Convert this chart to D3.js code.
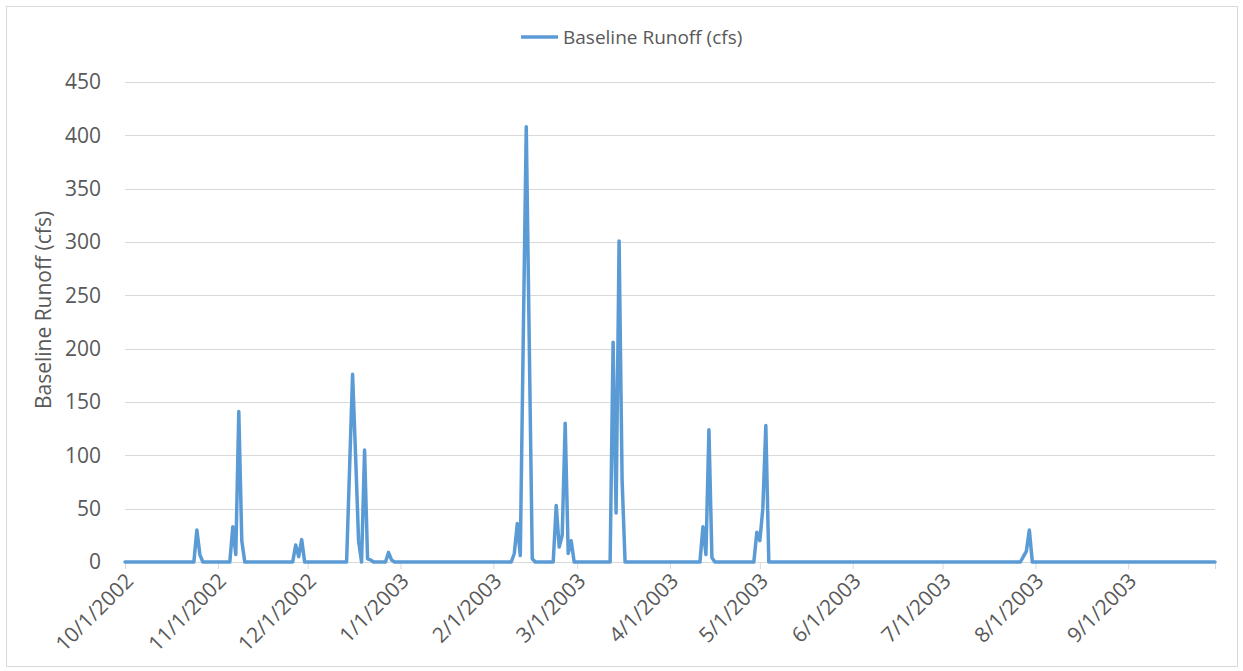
<!DOCTYPE html>
<html>
<head>
<meta charset="utf-8">
<script src="https://cdn.jsdelivr.net/npm/d3@7"></script>
<style>
  html, body { margin: 0; padding: 0; background: #ffffff; }
  svg { display: block; }
  text { font-family: "Open Sans", "Noto Sans", sans-serif; fill: #595959; }
</style>
</head>
<body>
<svg id="chart" width="1243" height="671"></svg>
<script>
// ---- Data ----
const seriesName = "Baseline Runoff (cfs)";
const startDate = "2002-10-01";
const endDate = "2003-09-30";
// Days with non-zero runoff; every other day in the period reads 0
const eventDates = [
  "2002-10-25", "2002-10-26",
  "2002-11-06", "2002-11-07", "2002-11-08", "2002-11-09",
  "2002-11-27", "2002-11-28", "2002-11-29",
  "2002-12-15", "2002-12-16", "2002-12-17", "2002-12-18", "2002-12-20", "2002-12-21", "2002-12-22",
  "2002-12-28", "2002-12-29",
  "2003-02-08", "2003-02-09", "2003-02-10", "2003-02-11", "2003-02-12", "2003-02-13", "2003-02-14",
  "2003-02-22", "2003-02-23", "2003-02-24", "2003-02-25", "2003-02-26", "2003-02-27",
  "2003-03-13", "2003-03-14", "2003-03-15", "2003-03-16",
  "2003-04-12", "2003-04-13", "2003-04-14", "2003-04-15",
  "2003-04-30", "2003-05-01", "2003-05-02", "2003-05-03",
  "2003-07-28", "2003-07-29", "2003-07-30"
];
const eventValues = [
  30, 7,
  33, 7, 141, 20,
  16, 5, 21,
  88, 176, 100, 20, 105, 3, 2,
  9, 2,
  8, 36, 6, 210, 408, 205, 3,
  53, 14, 25, 130, 8, 20,
  206, 46, 301, 77,
  33, 7, 124, 4,
  28, 20, 50, 128,
  5, 10, 30
];
const yTicks = [0, 50, 100, 150, 200, 250, 300, 350, 400, 450];
const yMax = 450;
const yAxisTitle = "Baseline Runoff (cfs)";

// ---- Build series ----
const parse = d3.utcParse("%Y-%m-%d");
const t0 = parse(startDate), t1 = parse(endDate);
const valueByDate = new Map(eventDates.map((d, i) => [d, eventValues[i]]));
const fmtKey = d3.utcFormat("%Y-%m-%d");
const series = d3.utcDay.range(t0, d3.utcDay.offset(t1, 1)).map(d => ({
  date: d,
  value: valueByDate.has(fmtKey(d)) ? valueByDate.get(fmtKey(d)) : 0
}));

// ---- Layout ----
const svg = d3.select("#chart");
const plot = { left: 125, right: 1215, top: 82, bottom: 562 };
const color = "#5b9bd5";
const gridColor = "#d9d9d9";

const x = d3.scaleUtc().domain([t0, t1]).range([plot.left, plot.right]);
const y = d3.scaleLinear().domain([0, yMax]).range([plot.bottom, plot.top]);

// chart border
svg.append("rect")
  .attr("x", 6.5).attr("y", 6.5)
  .attr("width", 1231).attr("height", 660)
  .attr("fill", "#ffffff")
  .attr("stroke", gridColor).attr("stroke-width", 1);

// horizontal gridlines
svg.append("g").selectAll("line")
  .data(yTicks.filter(v => v > 0))
  .join("line")
  .attr("x1", plot.left).attr("x2", plot.right)
  .attr("y1", d => Math.round(y(d)) + 0.5).attr("y2", d => Math.round(y(d)) + 0.5)
  .attr("stroke", gridColor).attr("stroke-width", 1);

// y axis labels
const yAxis = d3.axisLeft(y).tickValues(yTicks).tickSize(0).tickPadding(0);
const gy = svg.append("g").attr("transform", `translate(${plot.left - 24},0)`).call(yAxis);
gy.select(".domain").remove();
gy.selectAll("text")
  .attr("font-size", 21).attr("fill", "#595959")
  .attr("font-family", "'Open Sans', sans-serif");

// x axis (baseline + tick marks)
const monthTicks = d3.utcMonth.range(t0, t1);
const xAxis = d3.axisBottom(x)
  .tickValues(monthTicks.concat([t1]))
  .tickSize(7)
  .tickFormat(d => (+d === +t1 ? "" : d3.utcFormat("%-m/%-d/%Y")(d)));
const gx = svg.append("g").attr("transform", `translate(0,${plot.bottom})`).call(xAxis);
gx.select(".domain").attr("stroke", gridColor).attr("d", `M${plot.left},0.5H${plot.right}`);
gx.selectAll(".tick line").attr("stroke", gridColor);
gx.selectAll(".tick text")
  .attr("font-size", 21).attr("fill", "#595959")
  .attr("font-family", "'Open Sans', sans-serif")
  .attr("text-anchor", "end")
  .attr("transform", "translate(4,15) rotate(-45)")
  .attr("dy", "0.35em")
  .attr("y", 0).attr("x", 0);

// series line
const line = d3.line().x(d => x(d.date)).y(d => y(d.value));
svg.append("path")
  .datum(series)
  .attr("d", line)
  .attr("fill", "none")
  .attr("stroke", color)
  .attr("stroke-width", 3.5)
  .attr("stroke-linejoin", "round")
  .attr("stroke-linecap", "round");

// y axis title
svg.append("text")
  .attr("transform", `translate(51,${(plot.top + plot.bottom) / 2 - 12}) rotate(-90)`)
  .attr("text-anchor", "middle")
  .attr("font-size", 21)
  .text(yAxisTitle);

// legend
const lg = svg.append("g").attr("transform", "translate(521,37)");
lg.append("line").attr("x1", 0).attr("x2", 37).attr("y1", 0).attr("y2", 0)
  .attr("stroke", color).attr("stroke-width", 3.5);
lg.append("text").attr("x", 42).attr("y", 0).attr("dy", "0.35em")
  .attr("font-size", 19).text(seriesName);
</script>
</body>
</html>
